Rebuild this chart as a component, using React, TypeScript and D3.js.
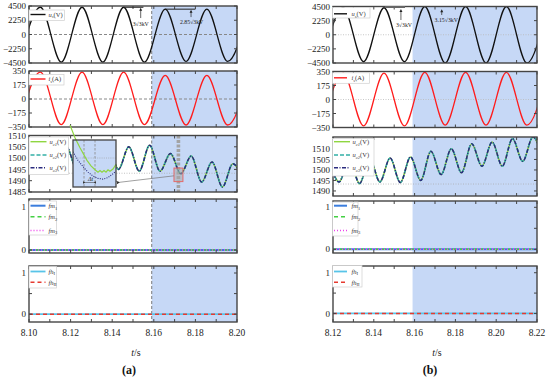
import React from 'react';
import * as d3 from 'd3';

// start of the blue (post-switching) region
const faultTime = 8.159;

// (a) grid voltage / current: time of each peak or trough and its value
const sTimesA = [8.0955, 8.1055, 8.1155, 8.1255, 8.1355, 8.1455, 8.1555, 8.1655, 8.1755, 8.1855, 8.1955, 8.2055];
const usA = [-4300, 4300, -4350, 4300, -4350, 4300, -4350, 4000, -4250, 4000, -4250, 4000];
const isA = [-320, 335, -320, 335, -320, 335, -320, 295, -325, 295, -325, 295];

// (b) grid voltage / current
const sTimesB = [8.115, 8.125, 8.135, 8.145, 8.155, 8.165, 8.175, 8.185, 8.195, 8.205, 8.215, 8.225];
const usB = [-4300, 4300, -4300, 4300, -4300, 4500, -4500, 4500, -4500, 4500, -4500, 4500];
const isB = [-330, 330, -330, 330, -330, 340, -320, 340, -320, 340, -320, 340];

// capacitor voltages u_c1..u_c3 (they lie on top of each other), extrema
const cTimesA = [8.098, 8.103, 8.108, 8.113, 8.118, 8.123, 8.128, 8.133, 8.138, 8.143, 8.148, 8.153,
  8.158, 8.163, 8.168, 8.173, 8.178, 8.183, 8.188, 8.193, 8.198, 8.203];
const ucA = [1505, 1496, 1505, 1495.5, 1505, 1495, 1505, 1495, 1505.5, 1495, 1505, 1494.2,
  1505.7, 1494.2, 1502, 1493.1, 1500.9, 1489.4, 1498.3, 1487.2, 1497.5, 1490];
const cTimesB = [8.118, 8.123, 8.128, 8.133, 8.138, 8.143, 8.148, 8.153, 8.158, 8.163, 8.168, 8.173,
  8.178, 8.183, 8.188, 8.193, 8.198, 8.203, 8.208, 8.213, 8.218, 8.223];
const ucB = [1505.5, 1494.3, 1505.5, 1493.5, 1505.5, 1494.3, 1505.7, 1494, 1506.2, 1495, 1508.9, 1497.8,
  1510.1, 1498.7, 1512.5, 1501.8, 1513.3, 1501.8, 1514.9, 1504.1, 1515.7, 1505];
const refLevel = 1493.3;

// zoomed window shown in the inset of (a)
const zoomWindow = [8.1697, 8.174];
const zoomRange = [1489.6, 1495.6];
const zoomTimesG = [8.1694, 8.1699, 8.1704, 8.1711, 8.1715, 8.1719, 8.1722, 8.1724, 8.1726, 8.1728, 8.173, 8.1732, 8.1734, 8.1737, 8.174];
const zoomUc1 = [1497.5, 1495.9, 1494.6, 1493.0, 1492.3, 1491.8, 1491.5, 1491.7, 1491.5, 1491.7, 1491.5, 1491.8, 1491.6, 1491.9, 1492.5];
const zoomTimesN = [8.1697, 8.1702, 8.1707, 8.1712, 8.1717, 8.1722, 8.1727, 8.1732, 8.1737, 8.174];
const zoomUc3 = [1494.1, 1493.0, 1492.2, 1491.5, 1491.0, 1490.7, 1490.6, 1490.8, 1491.3, 1491.6];
const dtMarks = [8.1708, 8.1719];

// fault flags: all stay at zero
const flagTimesA = [8.1, 8.2];
const flagTimesB = [8.12, 8.22];
const flagZero = [0, 0];

// tick labels
const usTicks = [4500, 2250, 0, -2250, -4500];
const isTicks = [350, 175, 0, -175, -350];
const ucTicksA = [1485, 1490, 1495, 1500, 1505, 1510];
const ucTicksB = [1490, 1495, 1500, 1505, 1510];
const flagTicks = [0, 1];
const xLabelsA = ['8.10', '8.12', '8.14', '8.16', '8.18', '8.20'];
const xLabelsB = ['8.12', '8.14', '8.16', '8.18', '8.20', '8.22'];

const SHADE = '#c6d8f6';
const FRAME = '#454545';
const FONT = '"Liberation Serif", "Times New Roman", "DejaVu Serif", serif';

const zip = (t: number[], v: number[]) => t.map((d, i) => [d, v[i]] as [number, number]);
const fmt = (v: number) => (v < 0 ? '\u2212' + Math.abs(v) : String(v));

function path(x: any, y: any, data: [number, number][], curve: any = d3.curveMonotoneX) {
  return d3.line<[number, number]>().x(d => x(d[0])).y(d => y(d[1])).curve(curve)(data) || '';
}

function Panel({ id, x, y, ticks, minor = [], dashed = false, children }: any) {
  const [x0, x1] = x.range();
  const [yb, yt] = y.range();
  const xd = x.domain();
  const xt = d3.range(11).map(i => xd[0] + i * 0.01);
  const fx = x(faultTime);
  return (
    <g>
      <clipPath id={id}><rect x={x0} y={yt} width={x1 - x0} height={yb - yt} /></clipPath>
      <rect x={x0} y={yt} width={x1 - x0} height={yb - yt} fill="#fff" />
      <rect x={fx} y={yt} width={x1 - fx} height={yb - yt} fill={SHADE} />
      {dashed && <line x1={fx} x2={fx} y1={yt} y2={yb} stroke="#7a7a7a" strokeWidth={1} strokeDasharray="3,2" />}
      <g clipPath={`url(#${id})`}>{children}</g>
      <g stroke={FRAME} strokeWidth={1}>
        {xt.map(t => (
          <g key={t}>
            <line x1={x(t)} x2={x(t)} y1={yb} y2={yb - 3} />
            <line x1={x(t)} x2={x(t)} y1={yt} y2={yt + 3} />
          </g>
        ))}
        {[...ticks, ...minor].map((v: number) => (
          <g key={v}>
            <line x1={x0} x2={x0 + 3} y1={y(v)} y2={y(v)} />
            <line x1={x1} x2={x1 - 3} y1={y(v)} y2={y(v)} />
          </g>
        ))}
      </g>
      <rect x={x0} y={yt} width={x1 - x0} height={yb - yt} fill="none" stroke={FRAME} strokeWidth={1.4} />
      {ticks.map((v: number) => (
        <text key={v} x={x0 - 3} y={y(v) + 3.1} textAnchor="end" fontSize={9} fill="#222">{fmt(v)}</text>
      ))}
    </g>
  );
}

function Sub({ base, sub, tail = '', subItalic = true }: any) {
  return (
    <>
      <tspan fontStyle="italic">{base}</tspan>
      <tspan fontSize={4.6} dy={1.6} fontStyle={subItalic ? 'italic' : 'normal'}>{sub}</tspan>
      <tspan dy={-1.6}>{tail}</tspan>
    </>
  );
}

function Legend({ x, y, w, h, lineEnd, textX, items }: any) {
  return (
    <g>
      <rect x={x} y={y} width={w} height={h} fill="#fff" stroke="#cfcfcf" strokeWidth={0.7} />
      {items.map((it: any, i: number) => (
        <g key={i}>
          <line x1={x + 1.5} x2={lineEnd} y1={it.y} y2={it.y} stroke={it.color} strokeWidth={it.w || 1.4} strokeDasharray={it.dash} />
          <text x={textX} y={it.y + 2.2} fontSize={6.5} fill="#333">{it.label}</text>
        </g>
      ))}
    </g>
  );
}

function Caps({ x, y, times, vals }: any) {
  const d = path(x, y, zip(times, vals));
  return (
    <g fill="none">
      <path d={d} stroke="#8fd641" strokeWidth={1.6} />
      <path d={d} stroke="#33b0a6" strokeWidth={1.5} strokeDasharray="4,2" />
      <path d={d} stroke="#2a2b7e" strokeWidth={1.5} strokeDasharray="4,1.5,1,1.5" />
    </g>
  );
}

function Flags({ x, y, times, kind }: any) {
  const d = path(x, y, zip(times, flagZero), d3.curveLinear);
  if (kind === 'm') {
    return (
      <g fill="none">
        <path d={d} stroke="#3b7ddd" strokeWidth={2} />
        <path d={d} stroke="#43d043" strokeWidth={1.5} strokeDasharray="4,3" />
        <path d={d} stroke="#ee44ee" strokeWidth={1.5} strokeDasharray="1,2" />
      </g>
    );
  }
  return (
    <g fill="none">
      <path d={d} stroke="#58c4e8" strokeWidth={1.8} />
      <path d={d} stroke="#e63a30" strokeWidth={1.5} strokeDasharray="4,3" />
    </g>
  );
}

function Arrow({ x, y1, y2 }: any) {
  return (
    <g stroke="#222" strokeWidth={0.7} fill="#222">
      <line x1={x} x2={x} y1={y1 + 2} y2={y2} />
      <path d={`M${x},${y1} l-1.5,3 l3,0 z`} stroke="none" />
    </g>
  );
}

export default function App() {
  const xA = d3.scaleLinear().domain([8.1, 8.2]).range([29, 237]);
  const xB = d3.scaleLinear().domain([8.12, 8.22]).range([333, 537]);

  const yUsA = d3.scaleLinear().domain([-4500, 4500]).range([63, 6]);
  const yIsA = d3.scaleLinear().domain([-350, 350]).range([127, 71]);
  const yUcA = d3.scaleLinear().domain([1485, 1510]).range([192, 135.5]);
  const yFmA = d3.scaleLinear().domain([-0.07, 1.19]).range([253, 199]);
  const yFhA = d3.scaleLinear().domain([-0.19, 1.17]).range([322, 266]);

  const yUsB = d3.scaleLinear().domain([-4500, 4500]).range([63, 6.5]);
  const yIsB = d3.scaleLinear().domain([-350, 350]).range([127.5, 71.5]);
  const yUcB = d3.scaleLinear().domain([1487.6, 1515.7]).range([196, 137]);
  const yFmB = d3.scaleLinear().domain([-0.087, 1.15]).range([253, 201]);
  const yFhB = d3.scaleLinear().domain([-0.21, 1.165]).range([322, 266]);

  // inset of (a)
  const ix = d3.scaleLinear().domain(zoomWindow).range([73, 116]);
  const iy = d3.scaleLinear().domain(zoomRange).range([187, 140]);
  const redX0 = xA(zoomWindow[0]);
  const redX1 = xA(zoomWindow[1]);
  const redY0 = yUcA(zoomRange[1]);
  const redY1 = yUcA(zoomRange[0]);

  const LA = { left: 29, wide: 0, text: 48.5, le: 45.5, le3: 46.5 };
  const LB = { left: 332.5, wide: 2, text: 351.5, le: 347, le3: 350 };

  const xLabel = (x: any, labels: string[]) =>
    labels.map(l => (
      <text key={l} x={x(+l)} y={335.5} textAnchor="middle" fontSize={9.5} fill="#222">{l}</text>
    ));

  const side = (
    x: any, yUs: any, yIs: any, yUc: any, yFm: any, yFh: any,
    sT: number[], us: number[], is: number[], cT: number[], uc: number[], fT: number[],
    ucTicks: number[], L: any, tag: string, a: boolean,
  ) => {
    const [x0, x1] = x.range();
    const zeroStyle = a ? { stroke: '#888', strokeDasharray: '3,2', strokeWidth: 1 } : { stroke: '#bbb', strokeDasharray: '1,1.5', strokeWidth: 0.8 };
    return (
      <g>
        <Panel id={`us${tag}`} x={x} y={yUs} ticks={usTicks} dashed={a}>
          <line x1={x0} x2={x1} y1={yUs(0)} y2={yUs(0)} {...zeroStyle} />
          <path d={path(x, yUs, zip(sT, us))} fill="none" stroke="#111" strokeWidth={1.3} />
        </Panel>
        <Panel id={`is${tag}`} x={x} y={yIs} ticks={isTicks} dashed={a}>
          <line x1={x0} x2={x1} y1={yIs(0)} y2={yIs(0)} {...zeroStyle} />
          <path d={path(x, yIs, zip(sT, is))} fill="none" stroke="#ff1c1c" strokeWidth={1.3} />
        </Panel>
        <Panel id={`uc${tag}`} x={x} y={yUc} ticks={ucTicks} dashed={a}>
          <line x1={x0} x2={x1} y1={yUc(refLevel)} y2={yUc(refLevel)} stroke="#aaa" strokeWidth={0.7} strokeDasharray="1,1.5" />
          {a && (
            <line x1={(xA(dtMarks[0]) + xA(dtMarks[1])) / 2 + 1} x2={(xA(dtMarks[0]) + xA(dtMarks[1])) / 2 + 1}
              y1={yUc.range()[1]} y2={yUc.range()[0]} stroke="#a3a3a3" strokeWidth={3.6} strokeDasharray="3,1.5" />
          )}
          <Caps x={x} y={yUc} times={cT} vals={uc} />
        </Panel>
        <Panel id={`fm${tag}`} x={x} y={yFm} ticks={flagTicks} minor={[0.5]} dashed={a}>
          <Flags x={x} y={yFm} times={fT} kind="m" />
        </Panel>
        <Panel id={`fh${tag}`} x={x} y={yFh} ticks={flagTicks} minor={[0.5]} dashed={a}>
          <Flags x={x} y={yFh} times={fT} kind="h" />
        </Panel>

        <Legend x={L.left} y={a ? 10 : 7.5} w={35.5 + L.wide} h={10.5} lineEnd={L.le} textX={L.text}
          items={[{ y: a ? 14.5 : 13.8, color: '#111', label: <Sub base="u" sub="s" tail="(V)" /> }]} />
        <Legend x={L.left} y={a ? 74.5 : 72.8} w={35 + L.wide} h={10.5} lineEnd={L.le} textX={L.text}
          items={[{ y: a ? 79 : 77.8, color: '#ff1c1c', label: <Sub base="i" sub="s" tail="(A)" /> }]} />
        <Legend x={L.left} y={a ? 137 : 138.5} w={39.5 + L.wide} h={37.5} lineEnd={L.le3} textX={L.text + 1}
          items={[
            { y: 141.7, color: '#8fd641', label: <Sub base="u" sub="c1" tail="(V)" /> },
            { y: 155, color: '#33b0a6', dash: '4,2', w: 1.6, label: <Sub base="u" sub="c2" tail="(V)" /> },
            { y: 167.7, color: '#2a2b7e', dash: '4,1.5,1,1.5', w: 1.6, label: <Sub base="u" sub="c3" tail="(V)" /> },
          ]} />
        <Legend x={L.left} y={a ? 201 : 202} w={27.5 - (a ? 0 : 4) + L.wide} h={34} lineEnd={L.le} textX={L.text}
          items={[
            { y: 205.7, color: '#3b7ddd', w: 2, label: <Sub base="fm" sub="1" subItalic={false} /> },
            { y: 216.7, color: '#43d043', dash: '4,3', label: <Sub base="fm" sub="2" subItalic={false} /> },
            { y: 230.5, color: '#ee44ee', dash: '1,2', w: 1.6, label: <Sub base="fm" sub="3" subItalic={false} /> },
          ]} />
        <Legend x={L.left} y={a ? 266.5 : 265.5} w={27.5 + L.wide} h={21.5} lineEnd={L.le} textX={L.text}
          items={[
            { y: 271.5, color: '#58c4e8', w: 1.8, label: <Sub base="fh" sub="I" subItalic={false} /> },
            { y: 282.3, color: '#e63a30', dash: '4,3', label: <Sub base="fh" sub="II" subItalic={false} /> },
          ]} />
      </g>
    );
  };

  return (
    <svg width={550} height={379} style={{ position: 'absolute', left: 0, top: 0, background: '#fff', fontFamily: FONT }}>
      <defs>
        <marker id="ah" viewBox="0 0 6 6" refX="1" refY="3" markerWidth="5" markerHeight="5" orient="auto-start-reverse">
          <path d="M0,3 L6,0 L6,6 z" fill="#333" />
        </marker>
        <clipPath id="insetClip"><rect x={73} y={140} width={43} height={47} /></clipPath>
      </defs>

      {side(xA, yUsA, yIsA, yUcA, yFmA, yFhA, sTimesA, usA, isA, cTimesA, ucA, flagTimesA, ucTicksA, LA, 'A', true)}
      {side(xB, yUsB, yIsB, yUcB, yFmB, yFhB, sTimesB, usB, isB, cTimesB, ucB, flagTimesB, ucTicksB, LB, 'B', false)}

      {/* red window and inset of (a) */}
      <rect x={redX0} y={redY0} width={redX1 - redX0} height={redY1 - redY0} fill="#a9a9a9" fillOpacity={0.55} stroke="#e46a6a" strokeWidth={1} />
      <line x1={redX0} y1={(redY0 + redY1) / 2 + 1} x2={119.5} y2={182.3} stroke="#777" strokeWidth={0.7} markerEnd="url(#ah)" />
      <rect x={73} y={140} width={43} height={47} fill={SHADE} />
      <g clipPath="url(#insetClip)" fill="none">
        <line x1={73} x2={116} y1={iy(refLevel)} y2={iy(refLevel)} stroke="#999" strokeWidth={0.6} strokeDasharray="1,1.2" />
        {dtMarks.map(t => (
          <line key={t} x1={ix(t)} x2={ix(t)} y1={140} y2={187} stroke="#888" strokeWidth={0.8} strokeDasharray="2.5,1.5" />
        ))}
        <path d={path(ix, iy, zip(zoomTimesN, zoomUc3), d3.curveLinear)} stroke="#2a2b7e" strokeWidth={1.1} strokeDasharray="1,1.3" />
      </g>
      <path d={path(ix, iy, zip(zoomTimesG, zoomUc1), d3.curveLinear)} fill="none" stroke="#8fd641" strokeWidth={1.2} />
      <line x1={ix(dtMarks[0]) + 1} x2={ix(dtMarks[1]) - 1} y1={182.5} y2={182.5} stroke="#333" strokeWidth={0.5}
        markerStart="url(#ah)" markerEnd="url(#ah)" />
      <text x={(ix(dtMarks[0]) + ix(dtMarks[1])) / 2 + 1} y={181} textAnchor="middle" fontSize={6} fontStyle="italic" fill="#222">Δt</text>
      <rect x={73} y={140} width={43} height={47} fill="none" stroke="#444" strokeWidth={1.3} />

      {/* peak annotations (a) */}
      <line x1={xA(8.1455)} x2={xA(8.155)} y1={yUsA(usA[5])} y2={yUsA(usA[5])} stroke="#222" strokeWidth={1} />
      <Arrow x={xA(8.1537)} y1={yUsA(usA[5]) + 0.5} y2={yUsA(2600)} />
      <text x={xA(8.1537)} y={26} textAnchor="middle" fontSize={5.8} fill="#222">3√3kV</text>
      <line x1={xA(8.1655)} x2={xA(8.18)} y1={yUsA(usA[7])} y2={yUsA(usA[7])} stroke="#222" strokeWidth={1} />
      <Arrow x={xA(8.1779)} y1={yUsA(usA[7]) + 0.5} y2={yUsA(2750)} />
      <text x={xA(8.1782)} y={23.8} textAnchor="middle" fontSize={5.8} fill="#222">2.85√3kV</text>

      {/* peak annotations (b) */}
      <line x1={xB(8.1455)} x2={xB(8.1553)} y1={7} y2={7} stroke="#666" strokeWidth={2} />
      <Arrow x={xB(8.1533)} y1={9} y2={20} />
      <text x={xB(8.1548)} y={26.5} textAnchor="middle" fontSize={5.8} fill="#222">3√3kV</text>
      <Arrow x={xB(8.1733)} y1={9.3} y2={15} />
      <text x={xB(8.1755)} y={21.5} textAnchor="middle" fontSize={5.8} fill="#222">3.15√3kV</text>

      {xLabel(xA, xLabelsA)}
      {xLabel(xB, xLabelsB)}
      <text x={136} y={355.5} textAnchor="middle" fontSize={10} fill="#222"><tspan fontStyle="italic">t</tspan>/s</text>
      <text x={437} y={355.5} textAnchor="middle" fontSize={10} fill="#222"><tspan fontStyle="italic">t</tspan>/s</text>
      <text x={129} y={373.5} textAnchor="middle" fontSize={12} fontWeight="bold" fill="#111">(a)</text>
      <text x={430} y={373.5} textAnchor="middle" fontSize={12} fontWeight="bold" fill="#111">(b)</text>
    </svg>
  );
}
